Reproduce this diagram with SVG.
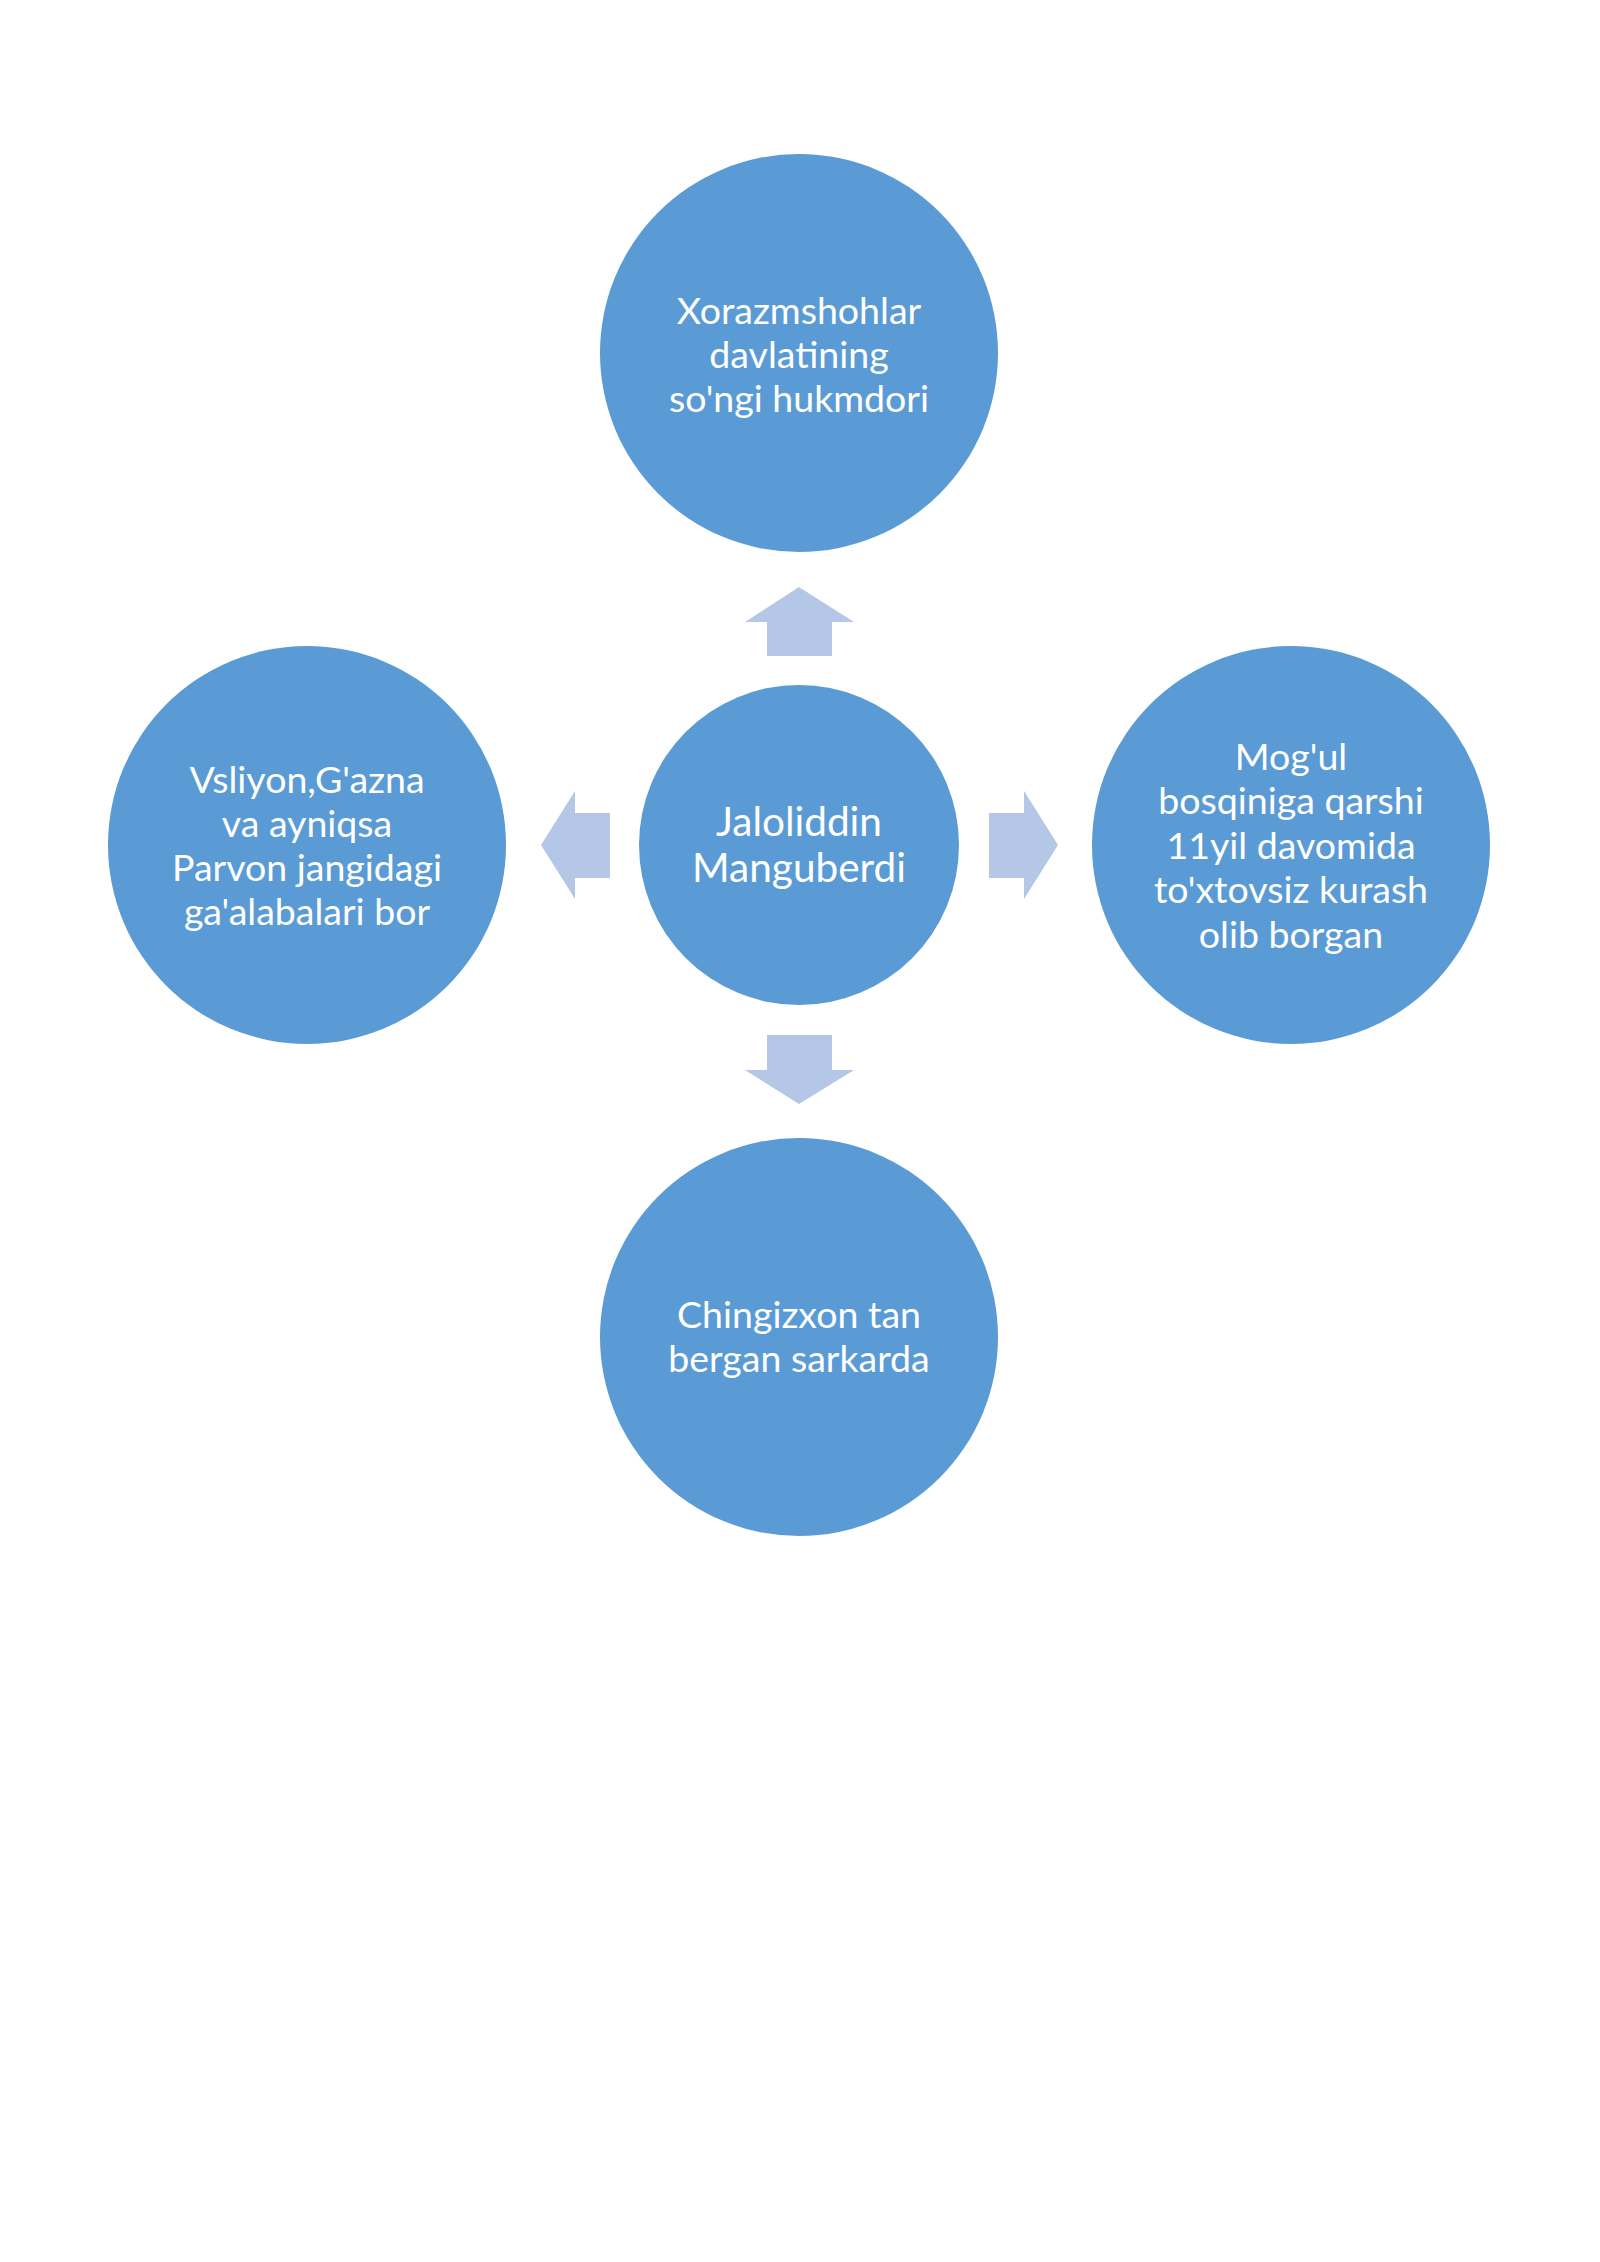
<svg xmlns="http://www.w3.org/2000/svg" width="1600" height="2262" viewBox="0 0 1600 2262">
  <style>
    .node { fill: #5B9BD5; }
    .arrow { fill: #B4C7E7; }
    .lbl { font-family: Lato, "Liberation Sans", sans-serif; font-size: 37.5px; fill: #FFFFFF; text-anchor: middle; }
    .lbl-c { font-size: 40.5px; }
  </style>
  <rect width="1600" height="2262" fill="#FFFFFF"/>
  <g id="connectors">
    <polygon class="arrow" points="799,587 854,622 832,622 832,656 767,656 767,622 745,622"/>
    <polygon class="arrow" points="767,1035 832,1035 832,1070 854,1070 799,1104 745,1070 767,1070"/>
    <polygon class="arrow" points="541,845 575,791 575,813 610,813 610,878 575,878 575,899"/>
    <polygon class="arrow" points="989,813 1024,813 1024,791 1058,845 1024,899 1024,878 989,878"/>
  </g>
  <g id="node-top">
    <circle class="node" cx="799" cy="353" r="199"/>
    <text class="lbl" x="799" y="324">Xorazmshohlar</text>
    <text class="lbl" x="799" y="368">davlatining</text>
    <text class="lbl" x="799" y="412">so'ngi hukmdori</text>
  </g>
  <g id="node-center">
    <circle class="node" cx="799" cy="845" r="160"/>
    <text class="lbl lbl-c" x="799" y="836">Jaloliddin</text>
    <text class="lbl lbl-c" x="799" y="882">Manguberdi</text>
  </g>
  <g id="node-left">
    <circle class="node" cx="307" cy="845" r="199"/>
    <text class="lbl" x="307" y="793">Vsliyon,G'azna</text>
    <text class="lbl" x="307" y="837">va ayniqsa</text>
    <text class="lbl" x="307" y="881">Parvon jangidagi</text>
    <text class="lbl" x="307" y="925">ga'alabalari bor</text>
  </g>
  <g id="node-right">
    <circle class="node" cx="1291" cy="845" r="199"/>
    <text class="lbl" x="1291" y="770">Mog'ul</text>
    <text class="lbl" x="1291" y="814">bosqiniga qarshi</text>
    <text class="lbl" x="1291" y="859">11yil davomida</text>
    <text class="lbl" x="1291" y="903">to'xtovsiz kurash</text>
    <text class="lbl" x="1291" y="948">olib borgan</text>
  </g>
  <g id="node-bottom">
    <circle class="node" cx="799" cy="1337" r="199"/>
    <text class="lbl" x="799" y="1328">Chingizxon tan</text>
    <text class="lbl" x="799" y="1372">bergan sarkarda</text>
  </g>
</svg>
